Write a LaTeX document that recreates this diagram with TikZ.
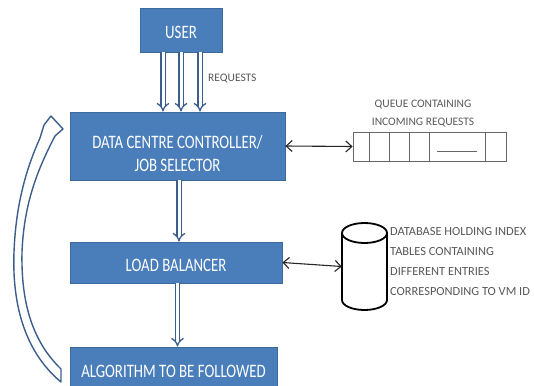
\documentclass[tikz,border=0pt]{standalone}
\usepackage{fontspec}
\newfontfamily\boxfont[FakeStretch=0.78]{Carlito}
\newfontfamily\smallfont{Carlito}
\usetikzlibrary{arrows.meta}
\definecolor{boxblue}{HTML}{4A7EBB}
\definecolor{boxedge}{HTML}{3A6A9E}
\definecolor{arrblue}{HTML}{3B5E8C}
\tikzset{
  box/.style={draw=boxedge, line width=0.8pt, fill=boxblue, inner sep=0pt},
  boxtext/.style={text=white, inner sep=0pt, align=center, font=\boxfont\fontsize{19}{23}\selectfont},
  dbl/.style={draw=arrblue, double=white, double distance=3pt, line width=1.3pt, -{Implies}},
  lbl/.style={text=black!65, font=\smallfont\fontsize{11.5}{13}\selectfont, inner sep=0pt},
  dblab/.style={text=black!65, font=\smallfont\fontsize{12.4}{20}\selectfont, inner sep=0pt, anchor=west},
  link/.style={draw=black!85, line width=1.1pt, {Straight Barb[length=6pt,width=11pt]}-{Straight Barb[length=6pt,width=11pt]}},
  qline/.style={draw=black!60, line width=0.8pt},
}
\begin{document}
\begin{tikzpicture}[x=1pt, y=-1pt]
\useasboundingbox (0,0) rectangle (534,385);
\fill[white] (0,0) rectangle (534,385);

% boxes
\node[box, minimum width=82pt, minimum height=44pt] (user) at (181,30) {};
\node[boxtext] (usert) at ([yshift=-2.5pt]user.center) {USER};
\node[box, minimum width=215pt, minimum height=68pt] (dcc) at (177.5,146) {};
\node[boxtext] (dcct) at ([yshift=-7pt]dcc.center) {DATA CENTRE CONTROLLER/\\JOB SELECTOR};
\node[box, minimum width=212pt, minimum height=41pt] (lb) at (176,262.5) {};
\node[boxtext] (lbt) at ([yshift=-3pt]lb.center) {LOAD BALANCER};
\node[box, minimum width=207pt, minimum height=48pt] (algo) at (173.5,371) {};
\node[boxtext] (algot) at (algo.center) {ALGORITHM TO BE FOLLOWED};

% request arrows
\draw[dbl] ([xshift=-18pt]user.south) -- ([xshift=-18pt]user.south |- dcc.north);
\draw[dbl] (user.south) -- (user.south |- dcc.north);
\draw[dbl] ([xshift=19pt]user.south) -- ([xshift=19pt]user.south |- dcc.north);
\node[lbl, anchor=west] (req) at (208,79) {REQUESTS};

% vertical flow
\draw[dbl] ([xshift=1.5pt]dcc.south) -- ([xshift=1.5pt]dcc.south |- lb.north);
\draw[dbl] ([xshift=1.5pt]lb.south) -- ([xshift=1.5pt]lb.south |- algo.north);

% queue
\node[qline, draw, minimum width=153pt, minimum height=29pt, inner sep=0pt] (queue) at (429.5,146.5) {};
\foreach \xx in {369,389,409,429,485} \draw[qline] (\xx,132) -- (\xx,161);
\draw[qline] (437,151) -- (477,151);
\node[lbl] (qlab1) at (423,105) {QUEUE CONTAINING};
\node[lbl] (qlab2) at (423,123) {INCOMING REQUESTS};
\draw[link] (dcc.east) -- (queue.west);

% database cylinder
\node[minimum width=45pt, minimum height=87pt, inner sep=0pt] (db) at (364.5,266.5) {};
\draw[black, line width=1.8pt] (342,233) -- (342,300) arc[start angle=180, end angle=0, x radius=22.5, y radius=10] -- (387,233);
\draw[black, line width=1.8pt, fill=white] (364.5,233) ellipse[x radius=22.5, y radius=10];
\draw[link] (lb.east) -- (db.west);
\node[dblab] (d1) at (390,232) {DATABASE HOLDING INDEX};
\node[dblab] (d2) at (390,252) {TABLES CONTAINING};
\node[dblab] (d3) at (390,272) {DIFFERENT ENTRIES};
\node[dblab] (d4) at (390,292) {CORRESPONDING TO VM ID};

% curved feedback arrow
\draw[draw=arrblue, line width=1.4pt, fill=white, line join=round]
  (61,382) .. controls (25,352) and (12,305) .. (14,252)
  .. controls (16,200) and (28,165) .. (40,138)
  -- (44,125) -- (51,116) -- (63,129) -- (55,136)
  .. controls (40,165) and (24,200) .. (22,252)
  .. controls (21,300) and (31,340) .. (61,369) -- cycle;
\end{tikzpicture}
\end{document}
